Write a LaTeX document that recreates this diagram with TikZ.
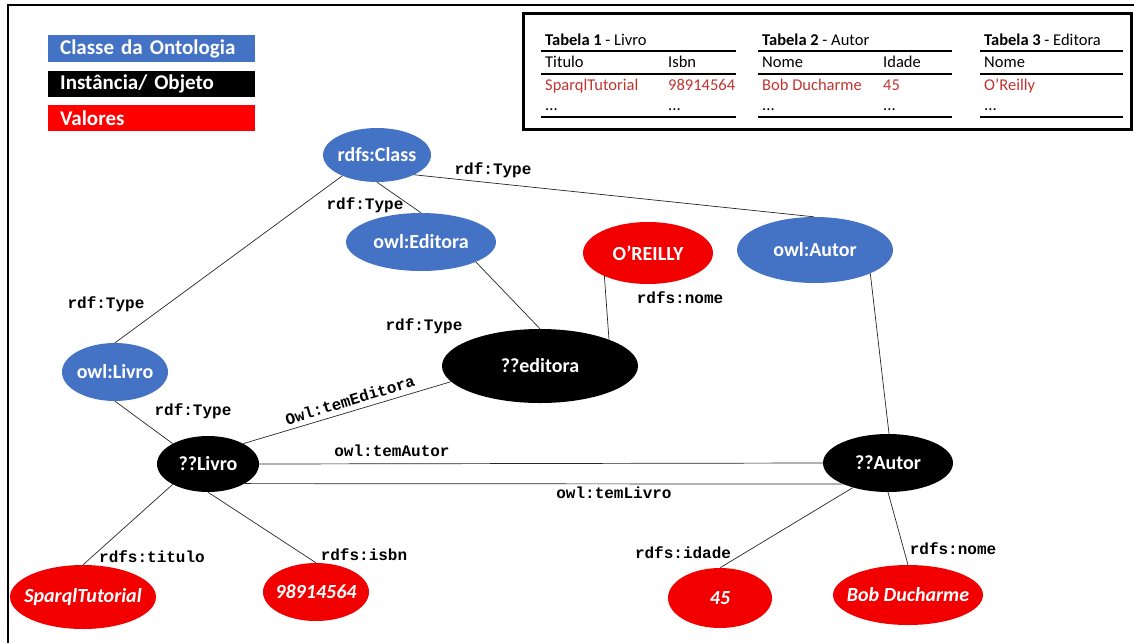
\documentclass[tikz,border=0pt]{standalone}
\usepackage{fontspec}
\setmainfont{Carlito}
\newfontfamily\relfont{Liberation Mono}
\usepackage{xcolor}
\usetikzlibrary{shapes.geometric}
\definecolor{ontoblue}{RGB}{68,114,196}
\definecolor{valred}{RGB}{242,0,0}
\definecolor{tabred}{RGB}{192,52,48}
\newcommand{\ctext}[1]{\makebox[0pt]{#1}}

\begin{document}
\begin{tikzpicture}[x=1pt,y=-1pt,
  sz/.style 2 args={minimum width=#1pt, minimum height=#2pt},
  classe/.style={ellipse, fill=ontoblue, inner sep=0pt, text=white,
    font=\fontsize{20}{24}\selectfont\bfseries},
  inst/.style={classe, fill=black},
  valor/.style={classe, fill=valred, font=\fontsize{20}{24}\selectfont\bfseries\itshape},
  rel/.style={font=\fontsize{16}{18}\selectfont\relfont\bfseries, inner sep=0pt},
  conn/.style={line width=0.7pt, black!85},
  legenda/.style={anchor=north west, minimum width=207pt, inner xsep=12pt, inner ysep=0pt,
    text width=183pt, align=left, text=white, font=\fontsize{21}{24}\selectfont\bfseries},
  tab/.style={anchor=base west, inner sep=0pt, font=\fontsize{16.5}{18}\selectfont},
  tabval/.style={tab, text=tabred}]
\useasboundingbox (0,0) rectangle (1134,643);

% moldura
\draw[line width=2pt] (8,643) -- (8,5) -- (1134,5);

% legenda
\node[legenda, fill=ontoblue, minimum height=27pt] (lclasse) at (48,35) {Classe da Ontologia};
\node[legenda, fill=black, minimum height=26pt] (linst) at (48,71) {Instância/ Objeto};
\node[legenda, fill=red, minimum height=26pt] (lval) at (48,105) {Valores};

% tabelas
\draw[line width=3pt] (523,13) rectangle (1131,129);
\foreach \xa/\xb in {541/736, 758/952, 980/1123} {
  \draw[line width=2.8pt] (\xa,51) -- (\xb,51);
  \draw[line width=1.6pt] (\xa,74) -- (\xb,74);
  \draw[line width=2.8pt] (\xa,117) -- (\xb,117);
}
\node[tab] (t1) at (545,45) {\textbf{Tabela 1} - Livro};
\node[tab] (t1a) at (545,67) {Titulo};
\node[tab] (t1b) at (668,67) {Isbn};
\node[tabval] (t1c) at (545,90) {SparqlTutorial};
\node[tabval] (t1d) at (668,90) {98914564};
\node[tab] (t1e) at (545,110) {...};
\node[tab] (t1f) at (668,110) {...};

\node[tab] (t2) at (762,45) {\textbf{Tabela 2} - Autor};
\node[tab] (t2a) at (762,67) {Nome};
\node[tab] (t2b) at (883,67) {Idade};
\node[tabval] (t2c) at (762,90) {Bob Ducharme};
\node[tabval] (t2d) at (883,90) {45};
\node[tab] (t2e) at (762,110) {...};
\node[tab] (t2f) at (883,110) {...};

\node[tab] (t3) at (984,45) {\textbf{Tabela 3} - Editora};
\node[tab] (t3a) at (984,67) {Nome};
\node[tabval] (t3c) at (984,90) {O'Reilly};
\node[tab] (t3e) at (984,110) {...};

% classes
\node[classe, sz={108}{54}] (cls) at (377,155) {\ctext{rdfs:Class}};
\node[classe, sz={150}{58}] (ed) at (421,242) {\ctext{owl:Editora}};
\node[classe, sz={156}{66}] (aut) at (815,250) {\ctext{owl:Autor}};
\node[classe, sz={106}{58}] (liv) at (115,372) {\ctext{owl:Livro}};

% instancias
\node[inst, sz={196}{74}] (qed) at (540,366) {\ctext{??editora}};
\node[inst, sz={102}{56}] (qliv) at (208,464) {\ctext{??Livro}};
\node[inst, sz={130}{58}] (qaut) at (888,463) {\ctext{??Autor}};

% valores
\node[valor, sz={130}{62}, font=\fontsize{20}{24}\selectfont\bfseries] (ore) at (648,253) {\ctext{O’REILLY}};
\node[valor, sz={146}{64}] (tit) at (83,597) {\ctext{SparqlTutorial}};
\node[valor, sz={106}{58}] (isbn) at (316,592) {\ctext{98914564}};
\node[valor, sz={104}{60}] (n45) at (720,598) {\ctext{45}};
\node[valor, sz={150}{60}] (bob) at (908,595) {\ctext{Bob Ducharme}};

% ligacoes
\draw[conn] (cls.211) -- (liv.north);
\draw[conn] (cls.south) -- (ed.north);
\draw[conn] (cls.-28) -- (aut.92);
\draw[conn] (ed.-20) -- (qed.north);
\draw[conn] (ore.208) -- (qed.21);
\draw[conn] (aut.-23) -- (qaut.88);
\draw[conn] (liv.south) -- (qliv.150);
\draw[conn] (qliv.30) -- (qed.190);
\draw[conn] (qliv.east) -- (qaut.west);
\draw[conn] (qliv.-28) -- (qaut.205);
\draw[conn] (qliv.210) -- (tit.north);
\draw[conn] (qliv.south) -- (isbn.north);
\draw[conn] (qaut.215) -- (n45.north);
\draw[conn] (qaut.south) -- (bob.north);

% rotulos
\node[rel] (r1) at (106,304) {rdf:Type};
\node[rel] (r2) at (365,205) {rdf:Type};
\node[rel] (r3) at (493,170) {rdf:Type};
\node[rel] (r4) at (424,326) {rdf:Type};
\node[rel] (r5) at (680,298) {rdfs:nome};
\node[rel] (r6) at (193,411) {rdf:Type};
\node[rel, rotate=17] (r7) at (350,400) {Owl:temEditora};
\node[rel] (r8) at (392,451) {owl:temAutor};
\node[rel] (r9) at (614,493) {owl:temLivro};
\node[rel] (r10) at (152,557) {rdfs:titulo};
\node[rel] (r11) at (364,555) {rdfs:isbn};
\node[rel] (r12) at (683,553) {rdfs:idade};
\node[rel] (r13) at (953,549) {rdfs:nome};
\end{tikzpicture}
\end{document}
